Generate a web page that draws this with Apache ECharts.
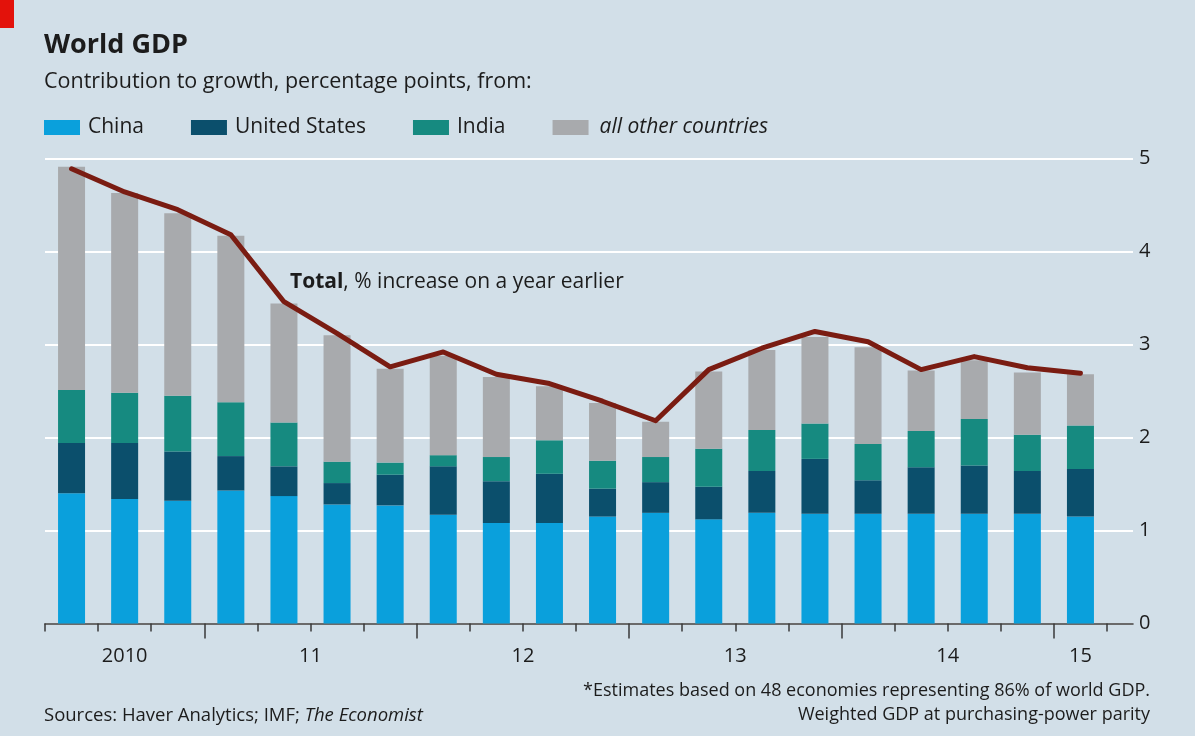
<!DOCTYPE html>
<html>
<head>
<meta charset="utf-8">
<title>World GDP</title>
<script src="https://cdn.jsdelivr.net/npm/echarts@6/dist/echarts.min.js"></script>
<style>
  html, body { margin: 0; padding: 0; background: #d2dfe8; }
  #chart { width: 1195px; height: 736px; }
</style>
</head>
<body>
<div id="chart"></div>
<script>
// Quarterly contributions to world GDP growth, percentage points
const quarters = [
  '2010 Q2', '2010 Q3', '2010 Q4',
  '2011 Q1', '2011 Q2', '2011 Q3', '2011 Q4',
  '2012 Q1', '2012 Q2', '2012 Q3', '2012 Q4',
  '2013 Q1', '2013 Q2', '2013 Q3', '2013 Q4',
  '2014 Q1', '2014 Q2', '2014 Q3', '2014 Q4',
  '2015 Q1'
];
const china  = [1.40, 1.34, 1.32, 1.43, 1.37, 1.28, 1.27, 1.17, 1.08, 1.08, 1.15, 1.19, 1.12, 1.19, 1.18, 1.18, 1.18, 1.18, 1.18, 1.15];
const usa    = [0.54, 0.60, 0.53, 0.37, 0.32, 0.23, 0.33, 0.52, 0.45, 0.53, 0.30, 0.33, 0.35, 0.45, 0.59, 0.36, 0.50, 0.52, 0.46, 0.51];
const india  = [0.57, 0.54, 0.60, 0.58, 0.47, 0.23, 0.13, 0.12, 0.26, 0.36, 0.30, 0.27, 0.41, 0.44, 0.38, 0.39, 0.39, 0.50, 0.39, 0.47];
const others = [2.40, 2.15, 1.96, 1.79, 1.28, 1.36, 1.01, 1.07, 0.86, 0.58, 0.62, 0.38, 0.83, 0.86, 0.93, 1.04, 0.65, 0.63, 0.67, 0.55];
const total  = [4.89, 4.64, 4.45, 4.18, 3.46, 3.12, 2.76, 2.92, 2.68, 2.58, 2.39, 2.18, 2.73, 2.96, 3.14, 3.03, 2.73, 2.87, 2.75, 2.69];
const yearLabels = { '2010': '2010', '2011': '11', '2012': '12', '2013': '13', '2014': '14', '2015': '15' };
const yTicks = [0, 1, 2, 3, 4, 5];

// Year spans along the quarter axis: label at the middle, long tick at each year start
const years = [];
quarters.forEach((q, i) => {
  const y = q.slice(0, 4);
  const last = years[years.length - 1];
  if (last && last.year === y) last.end = i + 1;
  else years.push({ year: y, start: i, end: i + 1 });
});
const yearMid = years.map(s => (s.start + s.end) / 2);
const yearStarts = years.filter(s => quarters[s.start].endsWith('Q1')).map(s => s.start);
const midToLabel = {};
years.forEach((s, k) => { midToLabel[yearMid[k]] = yearLabels[s.year]; });

const FONT = '"Open Sans"';
const INK = '#1c1c1c';

const chart = echarts.init(document.getElementById('chart'), null, { renderer: 'canvas' });

const barBase = { type: 'bar', stack: 'gdp', xAxisIndex: 0, yAxisIndex: 0, barWidth: 27 };
const txt = (size, extra) => Object.assign({ fontFamily: FONT, fontSize: size, fontWeight: 'normal', color: INK }, extra || {});

chart.setOption({
  backgroundColor: '#d2dfe8',
  animation: false,
  textStyle: { fontFamily: FONT },
  title: [
    { text: 'World GDP', left: 44, top: 32, padding: 0,
      textStyle: txt(27, { fontWeight: 'bold' }) },
    { text: 'Contribution to growth, percentage points, from:', left: 44, top: 71, padding: 0,
      textStyle: txt(21.5) },
    { text: '{b|Total}, % increase on a year earlier', left: 290, top: 272, padding: 0,
      textStyle: txt(21, { rich: { b: txt(21, { fontWeight: 'bold' }) } }) },
    { text: 'Sources: Haver Analytics; IMF; {i|The Economist}', left: 44, top: 706, padding: 0,
      textStyle: txt(18.5, { rich: { i: txt(18.5, { fontStyle: 'italic' }) } }) },
    { text: '*Estimates based on 48 economies representing 86% of world GDP.', right: 45, top: 682, padding: 0,
      textStyle: txt(18) },
    { text: 'Weighted GDP at purchasing-power parity', right: 45, top: 706, padding: 0,
      textStyle: txt(18) }
  ],
  graphic: [
    { type: 'rect', left: 0, top: 0, shape: { width: 14, height: 28 }, style: { fill: '#e3120b' } }
  ],
  legend: {
    data: ['China', 'United States', 'India', 'all other countries'],
    left: 44, top: 117, padding: 0,
    icon: 'rect', itemWidth: 36, itemHeight: 15, itemGap: 47,
    textStyle: txt(21, { padding: [0, 0, 0, 3],
      rich: { i: txt(21, { fontStyle: 'italic', padding: [0, 0, 0, 3] }) } }),
    formatter: name => name === 'all other countries' ? '{i|' + name + '}' : name
  },
  grid: [
    { left: 45, right: 88, top: 158.5, height: 465, containLabel: false },
    { left: 45, right: 62, top: 158.5, height: 465, containLabel: false }
  ],
  xAxis: [
    { type: 'category', gridIndex: 0, data: quarters,
      axisLine: { show: false }, axisTick: { show: false }, axisLabel: { show: false }, splitLine: { show: false } },
    { type: 'value', gridIndex: 0, min: 0, max: quarters.length, interval: 1, position: 'bottom',
      axisLine: { show: false }, splitLine: { show: false },
      axisTick: { show: true, length: 8, lineStyle: { color: '#3a3a3a', width: 1.5 } },
      axisLabel: Object.assign({ show: true, customValues: yearMid, margin: 23,
        formatter: v => midToLabel[v] || '' }, txt(20)) },
    { type: 'value', gridIndex: 0, min: 0, max: quarters.length, position: 'bottom',
      axisLine: { show: false }, splitLine: { show: false }, axisLabel: { show: false },
      axisTick: { show: true, customValues: yearStarts, length: 15, lineStyle: { color: '#3a3a3a', width: 1.5 } } },
    { type: 'value', gridIndex: 1, min: 0, max: 1, position: 'bottom',
      axisLine: { show: true, lineStyle: { color: '#3a3a3a', width: 1.5 } },
      axisTick: { show: false }, axisLabel: { show: false }, splitLine: { show: false } }
  ],
  yAxis: [
    { type: 'value', gridIndex: 0, min: 0, max: 5, show: false, splitLine: { show: false } },
    { type: 'value', gridIndex: 1, min: yTicks[0], max: yTicks[yTicks.length - 1], interval: 1, position: 'right',
      axisLine: { show: false }, axisTick: { show: false },
      splitLine: { show: true, lineStyle: { color: '#ffffff', width: 2 } },
      axisLabel: Object.assign({ margin: 6 }, txt(20)) }
  ],
  series: [
    Object.assign({ name: 'China', data: china, itemStyle: { color: '#0aa0dc' } }, barBase),
    Object.assign({ name: 'United States', data: usa, itemStyle: { color: '#0b4f6c' } }, barBase),
    Object.assign({ name: 'India', data: india, itemStyle: { color: '#168a80' } }, barBase),
    Object.assign({ name: 'all other countries', data: others, itemStyle: { color: '#a8aaad' } }, barBase),
    { name: 'Total', type: 'line', xAxisIndex: 0, yAxisIndex: 0, data: total, z: 5,
      symbol: 'none', silent: true,
      lineStyle: { color: '#7a1c12', width: 5, join: 'round', cap: 'round' } }
  ]
});
</script>
</body>
</html>
